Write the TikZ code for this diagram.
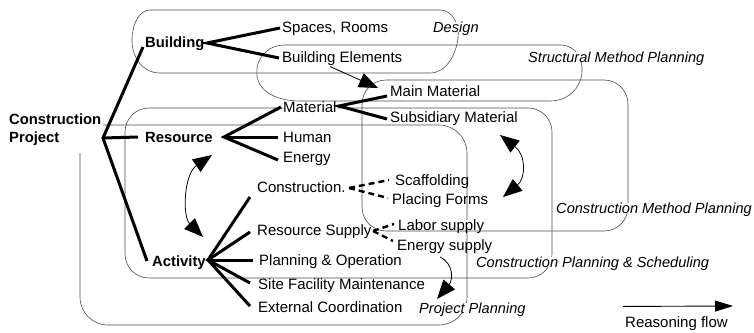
\documentclass[tikz,border=0pt]{standalone}
\usepackage{fontspec}
\setmainfont{Liberation Sans}
\usetikzlibrary{arrows.meta,calc}
\begin{document}
\begin{tikzpicture}[x=1pt,y=-1pt,
  txt/.style={anchor=west,inner sep=0pt,text height=10.7pt,text depth=0pt,font=\fontsize{15}{17.6}\selectfont},
  bld/.style={txt,font=\fontsize{14.8}{17.4}\selectfont\bfseries},
  lbl/.style={txt,fill=white,font=\fontsize{14.6}{17.4}\selectfont\itshape},
  tree/.style={line width=3pt},
  dtree/.style={line width=2.4pt,dash pattern=on 6pt off 4pt},
  frame/.style={line width=0.6pt,draw=black!70},
  bighead/.tip={Triangle[length=19pt,width=15pt]},
  flow/.style={line width=0.8pt,-bighead},
  flowtwo/.style={line width=0.8pt,bighead-bighead}]
\useasboundingbox (0,0) rectangle (754,332);

% ---------- frames ----------
% Design
\draw[frame] (150,10) -- (440,10) .. controls (452,10) and (460,24) .. (458,38)
  .. controls (456,55) and (446,73) .. (430,73) -- (160,73)
  .. controls (142,73) and (131,56) .. (132,38) .. controls (133,22) and (140,10) .. (150,10) -- cycle;
% Structural Method Planning
\draw[frame] (285,45) -- (562,45) .. controls (575,46) and (583,58) .. (582,72)
  .. controls (581,88) and (568,101) .. (550,101) -- (300,101)
  .. controls (282,101) and (260,95) .. (257,76) .. controls (255,58) and (268,45) .. (285,45) -- cycle;
% Construction Method Planning
\draw[frame,rounded corners=24pt] (362,80) rectangle (628,231);
% Construction Planning & Scheduling
\draw[frame,rounded corners=24pt] (125,108) rectangle (552,278);
% Project Planning (open at top left)
\draw[frame,rounded corners=28pt] (103,125) -- (467,125) -- (467,325) -- (80,325) -- (80,153);

% ---------- nodes ----------
\node[bld,align=left] (cp) at (9,137) {Construction\\Project};
\node[bld] (building) at (145,42) {Building};
\node[txt] (spaces) at (282,27) {Spaces, Rooms};
\node[txt] (elements) at (282,57) {Building Elements};
\node[lbl] (design) at (433,27) {Design};
\node[lbl] (smp) at (528,57) {Structural Method Planning};
\node[txt] (mainmat) at (390,91) {Main Material};
\node[txt,fill=white] (material) at (283,107) {Material};
\node[txt] (submat) at (390,117) {Subsidiary Material};
\node[bld] (resource) at (145,137) {Resource};
\node[txt] (human) at (283,137) {Human};
\node[txt] (energy) at (283,157) {Energy};
\node[txt] (construction) at (257,187) {Construction.};
\node[txt] (scaff) at (395,180) {Scaffolding};
\node[txt] (forms) at (392,199) {Placing Forms};
\node[txt] (rsupply) at (257,230) {Resource Supply};
\node[txt,fill=white] (labor) at (398,225) {Labor supply};
\node[txt] (esupply) at (397,245) {Energy supply};
\node[txt] (planop) at (259,260) {Planning \& Operation};
\node[txt] (site) at (258,284) {Site Facility Maintenance};
\node[txt] (external) at (258,307) {External Coordination};
\node[bld] (activity) at (152,261) {Activity};
\node[lbl] (pp) at (419,308) {Project Planning};
\node[lbl] (cps) at (476,262) {Construction Planning \& Scheduling};
\node[lbl] (cmp) at (556,208) {Construction Method Planning};
\node[txt] (rf) at (625,322) {Reasoning flow};

% ---------- tree ----------
\coordinate (root) at (103,138);
\draw[tree] ($(building.west)+(-2,5)$) -- (root) -- ($(activity.west)+(-5,0)$);
\draw[tree] (root) -- ($(resource.west)+(-7,0)$);
\coordinate (bv) at (207,43);
\draw[tree] ($(spaces.west)+(-2,1)$) -- (bv) -- ($(elements.west)+(-3,1)$);
\coordinate (rv) at (224,137);
\draw[tree] ($(material.west)+(-2,0)$) -- (rv) -- ($(energy.west)+(-5,3)$);
\draw[tree] (rv) -- ($(human.west)+(-5,0)$);
\coordinate (mv) at (339,106);
\draw[tree] ($(mainmat.west)+(-3,5)$) -- (mv) -- ($(submat.west)+(-3,2)$);
\coordinate (av) at (208,260);
\draw[tree] ($(construction.west)+(-7,10)$) -- (av) -- ($(external.west)+(-8,-1)$);
\draw[tree] ($(rsupply.west)+(-7,2)$) -- (av) -- ($(site.west)+(-8,-1)$);
\draw[tree] (av) -- ($(planop.west)+(-6,0)$);
\coordinate (cv) at (349,188);
\draw[dtree] (cv) -- ($(scaff.west)+(-6,0)$);
\draw[dtree] (cv) -- ($(forms.west)+(-4,-1)$);
\coordinate (sv) at (373,231);
\draw[dtree] (sv) -- ($(labor.west)+(-4,-1)$);
\draw[dtree] (sv) -- ($(esupply.west)+(-4,-4)$);

% ---------- reasoning arrows ----------
\coordinate (mmtip) at ($(mainmat.west)+(-12,-3)$);
\draw[flow] ($(elements.south west)+(48,4)$) -- (mmtip);
\coordinate (la1) at (212,155);
\coordinate (la2) at (203,237);
\draw[flowtwo] (la1) .. controls (184,174) and (182,216) .. (la2);
\coordinate (ra1) at (500,135);
\coordinate (ra2) at (503,197);
\draw[flowtwo] (ra1) .. controls (526,155) and (526,178) .. (ra2);
\coordinate (pptip) at (437,299);
\draw[flow] ($(esupply.west)+(43,12)$) .. controls (454,264) and (453,280) .. (pptip);
\coordinate (rfend) at (733,306);
\draw[line width=0.9pt,-{Triangle[length=18pt,width=11pt]}] ($(rf.north west)+(-2,-10)$) -- (rfend);
\end{tikzpicture}
\end{document}
